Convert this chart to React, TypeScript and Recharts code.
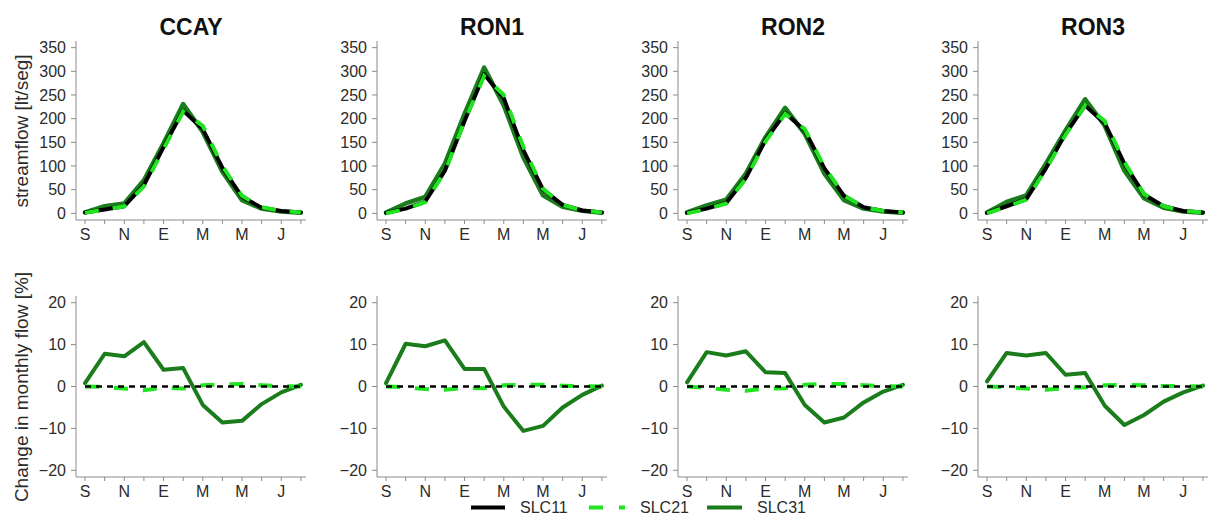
import React from 'react';
import { LineChart, Line, XAxis, YAxis } from 'recharts';

// ---------- data ----------
const monthIndex = [1, 2, 3, 4, 5, 6, 7, 8, 9, 10, 11, 12];
const monthLabels = ['S', 'O', 'N', 'D', 'E', 'F', 'M', 'A', 'M', 'J', 'J', 'A'];
const xTickLabels = ['S', '', 'N', '', 'E', '', 'M', '', 'M', '', 'J', ''];
const stations = ['CCAY', 'RON1', 'RON2', 'RON3'];
const seriesNames = ['SLC11', 'SLC21', 'SLC31'];
const flowTicks = [0, 50, 100, 150, 200, 250, 300, 350];
const changeTicks = [-20, -10, 0, 10, 20];
const flowLabel = 'streamflow [lt/seg]';
const changeLabel = 'Change in monthly flow [%]';

// streamflow [lt/seg]
const ccayQ11 = [2, 8, 15, 60, 140, 217, 178, 96, 35, 12, 5, 2];
const ccayQ21 = [1, 8, 15, 57, 136, 215, 185, 100, 37, 13, 5, 2];
const ccayQ31 = [2, 15, 21, 70, 148, 231, 172, 88, 28, 10, 4, 1.5];

const ron1Q11 = [1, 10, 25, 90, 195, 294, 243, 133, 50, 18, 6, 2];
const ron1Q21 = [0, 9, 24, 88, 195, 290, 250, 140, 52, 18, 6, 2];
const ron1Q31 = [2, 21, 35, 105, 210, 308, 228, 118, 38, 14, 5.6, 1.5];

const ron2Q11 = [1, 10, 22, 75, 155, 212, 175, 95, 37, 13, 5, 2];
const ron2Q21 = [0, 9, 21, 73, 152, 210, 178, 98, 38, 13, 5, 2];
const ron2Q31 = [2, 17, 29, 84, 161, 223, 168, 84, 28, 10, 4, 1.5];

const ron3Q11 = [1, 15, 30, 95, 168, 228, 190, 105, 40, 15, 5, 2];
const ron3Q21 = [0, 14, 29, 93, 166, 228, 195, 108, 41, 15, 5, 2];
const ron3Q31 = [2, 24, 38, 105, 175, 241, 185, 90, 32, 12, 4, 1.5];

// change in monthly flow [%]
const ccayD11 = [0, 0, 0, 0, 0, 0, 0, 0, 0, 0, 0, 0];
const ccayD21 = [0, -0.1, -0.5, -0.9, -0.3, -0.5, 0.3, 0.5, 0.6, 0.3, 0.1, 0];
const ccayD31 = [0.8, 7.8, 7.2, 10.6, 4.0, 4.4, -4.4, -8.6, -8.2, -4.2, -1.4, 0.4];

const ron1D11 = [0, 0, 0, 0, 0, 0, 0, 0, 0, 0, 0, 0];
const ron1D21 = [0, -0.2, -0.6, -0.8, -0.3, -0.4, 0.3, 0.4, 0.4, 0.2, 0.1, 0];
const ron1D31 = [0.8, 10.2, 9.6, 11.0, 4.2, 4.2, -4.8, -10.6, -9.4, -5.0, -2.0, 0.2];

const ron2D11 = [0, 0, 0, 0, 0, 0, 0, 0, 0, 0, 0, 0];
const ron2D21 = [0, -0.3, -0.8, -1.0, -0.5, -0.4, 0.4, 0.6, 0.6, 0.3, 0.1, 0];
const ron2D31 = [1.0, 8.2, 7.4, 8.4, 3.4, 3.2, -4.4, -8.6, -7.4, -3.8, -1.2, 0.4];

const ron3D11 = [0, 0, 0, 0, 0, 0, 0, 0, 0, 0, 0, 0];
const ron3D21 = [0, -0.2, -0.5, -0.8, -0.4, -0.2, 0.3, 0.4, 0.3, 0.1, 0.1, 0];
const ron3D31 = [1.2, 8.0, 7.4, 8.0, 2.8, 3.2, -4.6, -9.2, -6.8, -3.6, -1.4, 0.2];

const flowSets = [
  [ccayQ11, ccayQ21, ccayQ31],
  [ron1Q11, ron1Q21, ron1Q31],
  [ron2Q11, ron2Q21, ron2Q31],
  [ron3Q11, ron3Q21, ron3Q31],
];
const changeSets = [
  [ccayD11, ccayD21, ccayD31],
  [ron1D11, ron1D21, ron1D31],
  [ron2D11, ron2D21, ron2D31],
  [ron3D11, ron3D21, ron3D31],
];

const buildRows = (sets: number[][]) =>
  monthIndex.map((m, i) => ({
    m,
    month: monthLabels[i],
    s11: sets[0][i],
    s21: sets[1][i],
    s31: sets[2][i],
  }));

// ---------- style ----------
const FONT = '"Liberation Sans", Arial, Helvetica, sans-serif';
const AXIS = '#8a8a8a';
const TXT = '#2b2b2b';
const BLACK = '#000000';
const LIGHT = '#1fe41f';
const DARK = '#1a7c1a';
const PANEL_LEFT = [76, 377, 678, 978];
const BOX_W = 230;
const TOP_BOX = { top: 41, h: 179 };
const BOT_BOX = { top: 296, h: 181 };
const X_DOMAIN: [number, number] = [0.54, 12.26];
const FLOW_DOMAIN: [number, number] = [-14, 364];
const CHANGE_DOMAIN: [number, number] = [-21.6, 21.6];
const Y_W = 60;
const X_H = 30;

const fmtY = (v: number) => (v < 0 ? '\u2212' + Math.abs(v) : String(v));

type PanelProps = {
  left: number;
  box: { top: number; h: number };
  data: any[];
  domain: [number, number];
  ticks: number[];
  lower: boolean;
};

function Panel({ left, box, data, domain, ticks, lower }: PanelProps) {
  const W = Y_W + BOX_W + 5;
  const H = 5 + box.h + X_H;
  return (
    <div style={{ position: 'absolute', left: left - Y_W, top: box.top - 5 }}>
      <LineChart width={W} height={H} data={data} margin={{ top: 5, right: 5, left: 0, bottom: 0 }}>
        <XAxis
          xAxisId="b"
          dataKey="m"
          type="number"
          domain={X_DOMAIN}
          ticks={monthIndex}
          interval={0}
          allowDataOverflow
          tickFormatter={(v: number) => xTickLabels[v - 1]}
          height={X_H}
          tickSize={4}
          tickMargin={5}
          stroke={AXIS}
          tick={{ fill: TXT, fontSize: 16 }}
        />
        <XAxis
          xAxisId="t"
          dataKey="m"
          type="number"
          orientation="top"
          domain={X_DOMAIN}
          allowDataOverflow
          height={0}
          tick={false}
          tickLine={false}
          stroke={AXIS}
        />
        <YAxis
          yAxisId="l"
          type="number"
          domain={domain}
          ticks={ticks}
          interval={0}
          allowDataOverflow
          tickFormatter={fmtY}
          width={Y_W}
          tickSize={5}
          tickMargin={5}
          stroke={AXIS}
          tick={{ fill: TXT, fontSize: 16 }}
        />
        <YAxis
          yAxisId="r"
          type="number"
          orientation="right"
          domain={domain}
          allowDataOverflow
          width={0}
          tick={false}
          tickLine={false}
          stroke={AXIS}
        />
        {lower ? (
          <>
            <Line xAxisId="b" yAxisId="l" dataKey="s31" name="SLC31" type="linear" stroke={DARK} strokeWidth={4} dot={false} activeDot={false} isAnimationActive={false} strokeLinejoin="round" strokeLinecap="round" />
            <Line xAxisId="b" yAxisId="l" dataKey="s21" name="SLC21" type="linear" stroke={LIGHT} strokeWidth={4} strokeDasharray="14 15" dot={false} activeDot={false} isAnimationActive={false} />
            <Line xAxisId="b" yAxisId="l" dataKey="s11" name="SLC11" type="linear" stroke={BLACK} strokeWidth={2.5} strokeDasharray="6 5" dot={false} activeDot={false} isAnimationActive={false} />
          </>
        ) : (
          <>
            <Line xAxisId="b" yAxisId="l" dataKey="s31" name="SLC31" type="linear" stroke={DARK} strokeWidth={4.5} dot={false} activeDot={false} isAnimationActive={false} strokeLinejoin="round" strokeLinecap="round" />
            <Line xAxisId="b" yAxisId="l" dataKey="s11" name="SLC11" type="linear" stroke={BLACK} strokeWidth={4} dot={false} activeDot={false} isAnimationActive={false} strokeLinejoin="round" strokeLinecap="round" />
            <Line xAxisId="b" yAxisId="l" dataKey="s21" name="SLC21" type="linear" stroke={LIGHT} strokeWidth={4} strokeDasharray="14 14" dot={false} activeDot={false} isAnimationActive={false} />
          </>
        )}
      </LineChart>
    </div>
  );
}

const legendItems = [
  { name: seriesNames[0], color: BLACK, dash: undefined as string | undefined, x1: 471, x2: 505, tx: 520 },
  { name: seriesNames[1], color: LIGHT, dash: '14 16', x1: 589, x2: 625, tx: 640 },
  { name: seriesNames[2], color: DARK, dash: undefined as string | undefined, x1: 707, x2: 742, tx: 757 },
];

export default function App() {
  return (
    <div
      style={{
        position: 'absolute',
        left: 0,
        top: 0,
        width: 1208,
        height: 515,
        overflow: 'hidden',
        background: '#ffffff',
        fontFamily: FONT,
      }}
    >
      {stations.map((st, i) => (
        <React.Fragment key={st}>
          <Panel left={PANEL_LEFT[i]} box={TOP_BOX} data={buildRows(flowSets[i])} domain={FLOW_DOMAIN} ticks={flowTicks} lower={false} />
          <Panel left={PANEL_LEFT[i]} box={BOT_BOX} data={buildRows(changeSets[i])} domain={CHANGE_DOMAIN} ticks={changeTicks} lower={true} />
        </React.Fragment>
      ))}
      <svg
        width={1208}
        height={515}
        style={{ position: 'absolute', left: 0, top: 0, pointerEvents: 'none' }}
      >
        {stations.map((st, i) => (
          <text key={st} x={PANEL_LEFT[i] + BOX_W / 2} y={35} textAnchor="middle" fontSize={23} fontWeight="bold" fill="#111">
            {st}
          </text>
        ))}
        <text x={28} y={131} transform="rotate(-90 28 131)" textAnchor="middle" fontSize={19} fill={TXT}>
          {flowLabel}
        </text>
        <text x={28} y={387} transform="rotate(-90 28 387)" textAnchor="middle" fontSize={19} fill={TXT}>
          {changeLabel}
        </text>
        {legendItems.map((it) => (
          <g key={it.name}>
            <line x1={it.x1} x2={it.x2} y1={507.5} y2={507.5} stroke={it.color} strokeWidth={4} strokeDasharray={it.dash} />
            <text x={it.tx} y={513} fontSize={16} fill={TXT}>
              {it.name}
            </text>
          </g>
        ))}
      </svg>
    </div>
  );
}
